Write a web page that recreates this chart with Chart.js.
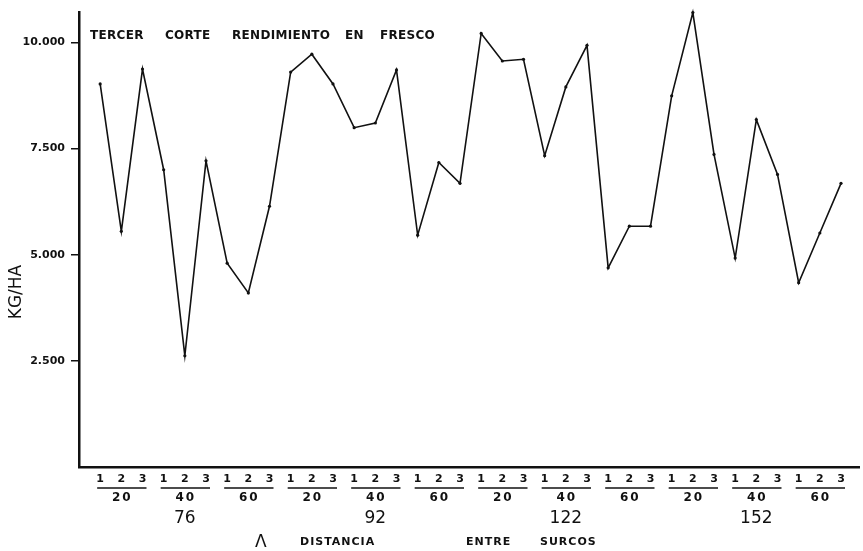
<!DOCTYPE html>
<html>
<head>
<meta charset="utf-8">
<script src="https://cdn.jsdelivr.net/npm/chart.js@4"></script>
<style>
  html, body { margin: 0; padding: 0; background: #fff; }
  #wrap { width: 863px; height: 551px; }
</style>
</head>
<body>
<div id="wrap"><canvas id="chart" width="863" height="551"></canvas></div>
<script>
// rows under the axis
const seeds = ["1", "2", "3"];
const spacings = ["20", "40", "60"];
const distances = ["76", "92", "122", "152"];

// kg/ha (36 points: 4 distances x 3 spacings x 3 seeds)
const yieldKgHa = [
  9020, 5550, 9370, 7000, 2620, 7210, 4800, 4100, 6140,
  9300, 9720, 9020, 7990, 8100, 9350, 5460, 7170, 6680,
  10210, 9560, 9600, 7330, 8950, 9930, 4690, 5670, 5670,
  8740, 10700, 7360, 4920, 8180, 6890, 4340, 5510, 6680
];

const yTicks = [2500, 5000, 7500, 10000];
const yTickLabels = ["2.500", "5.000", "7.500", "10.000"];

const chartTitle = ["TERCER", "CORTE", "RENDIMIENTO", "EN", "FRESCO"];
const xTitle = ["DISTANCIA", "ENTRE", "SURCOS"];
const yTitle = "KG/HA";

const points = yieldKgHa.map((v, i) => ({ x: i + 1, y: v }));

const font = "'DejaVu Sans', sans-serif";

const extraText = {
  id: "extraText",
  afterDraw(chart) {
    const ctx = chart.ctx;
    const xs = chart.scales.x;
    const area = chart.chartArea;
    ctx.save();
    ctx.fillStyle = "#111";
    ctx.strokeStyle = "#111";

    // title inside the plot
    ctx.font = "bold 12px " + font;
    ctx.textAlign = "left";
    ctx.textBaseline = "middle";
    ctx.letterSpacing = "0.3px";
    const titleX = [90, 165, 232, 345, 380];
    chartTitle.forEach((w, i) => ctx.fillText(w, titleX[i], 36));

    // underline under each 1 2 3 group and spacing labels
    const groups = distances.length * spacings.length;
    for (let g = 0; g < groups; g++) {
      const first = xs.getPixelForValue(g * 3 + 1);
      const mid = xs.getPixelForValue(g * 3 + 2);
      const last = xs.getPixelForValue(g * 3 + 3);
      ctx.lineWidth = 1.5;
      ctx.beginPath();
      ctx.moveTo(first - 3, area.bottom + 21);
      ctx.lineTo(last + 4, area.bottom + 21);
      ctx.stroke();
      ctx.font = "bold 12px " + font;
      ctx.letterSpacing = "2px";
      ctx.textAlign = "center";
      ctx.fillText(spacings[g % 3], mid + 1, area.bottom + 31);
    }

    // distance labels
    ctx.font = "17px " + font;
    ctx.letterSpacing = "0px";
    distances.forEach((d, k) => {
      const c = xs.getPixelForValue(k * 9 + 5);
      ctx.fillText(d, c, area.bottom + 52);
    });

    // axis title
    ctx.font = "bold 11px " + font;
    ctx.letterSpacing = "1px";
    ctx.textAlign = "left";
    ctx.fillText(xTitle[0], 300, area.bottom + 75);
    ctx.fillText(xTitle[1], 466, area.bottom + 75);
    ctx.fillText(xTitle[2], 540, area.bottom + 75);
    ctx.font = "17px " + font;
    ctx.letterSpacing = "0px";
    ctx.fillText("\u039B", 255, area.bottom + 76);

    // y title
    ctx.font = "17px " + font;
    ctx.translate(17, 292);
    ctx.rotate(-Math.PI / 2);
    ctx.textAlign = "center";
    ctx.fillText(yTitle, 0, 0);
    ctx.restore();
  }
};

new Chart(document.getElementById("chart"), {
  type: "line",
  data: {
    datasets: [{
      data: points,
      borderColor: "#111",
      borderWidth: 1.6,
      pointRadius: 1.6,
      pointBackgroundColor: "#111",
      pointBorderWidth: 0,
      tension: 0,
      fill: false,
      clip: false
    }]
  },
  options: {
    responsive: false,
    animation: false,
    layout: { padding: { top: 10, right: 0, left: 0, bottom: 0 } },
    plugins: { legend: { display: false }, tooltip: { enabled: false }, title: { display: false } },
    scales: {
      x: {
        type: "linear",
        min: 0,
        max: 36.85,
        afterFit(scale) { scale.height = 84; },
        grid: { display: false },
        border: { display: true, color: "#111", width: 2.5 },
        ticks: {
          stepSize: 1,
          autoSkip: false,
          maxRotation: 0,
          includeBounds: false,
          padding: -2,
          color: "#111",
          font: { family: "'DejaVu Sans', sans-serif", size: 11, weight: "bold" },
          callback: v => (Number.isInteger(v) && v >= 1 && v <= 36) ? seeds[(v - 1) % 3] : ""
        }
      },
      y: {
        min: 0,
        max: 10700,
        afterFit(scale) { scale.width = 79; },
        afterBuildTicks(scale) { scale.ticks = yTicks.map(v => ({ value: v })); },
        grid: { display: true, drawOnChartArea: false, drawTicks: true, tickLength: 8, color: "#111", lineWidth: 1.5 },
        border: { display: true, color: "#111", width: 2.5 },
        ticks: {
          padding: 6,
          color: "#111",
          font: { family: "'DejaVu Sans', sans-serif", size: 11, weight: "bold" },
          callback: v => {
            const i = yTicks.indexOf(v);
            return i >= 0 ? yTickLabels[i] : "";
          }
        }
      }
    }
  },
  plugins: [extraText]
});
</script>
</body>
</html>
